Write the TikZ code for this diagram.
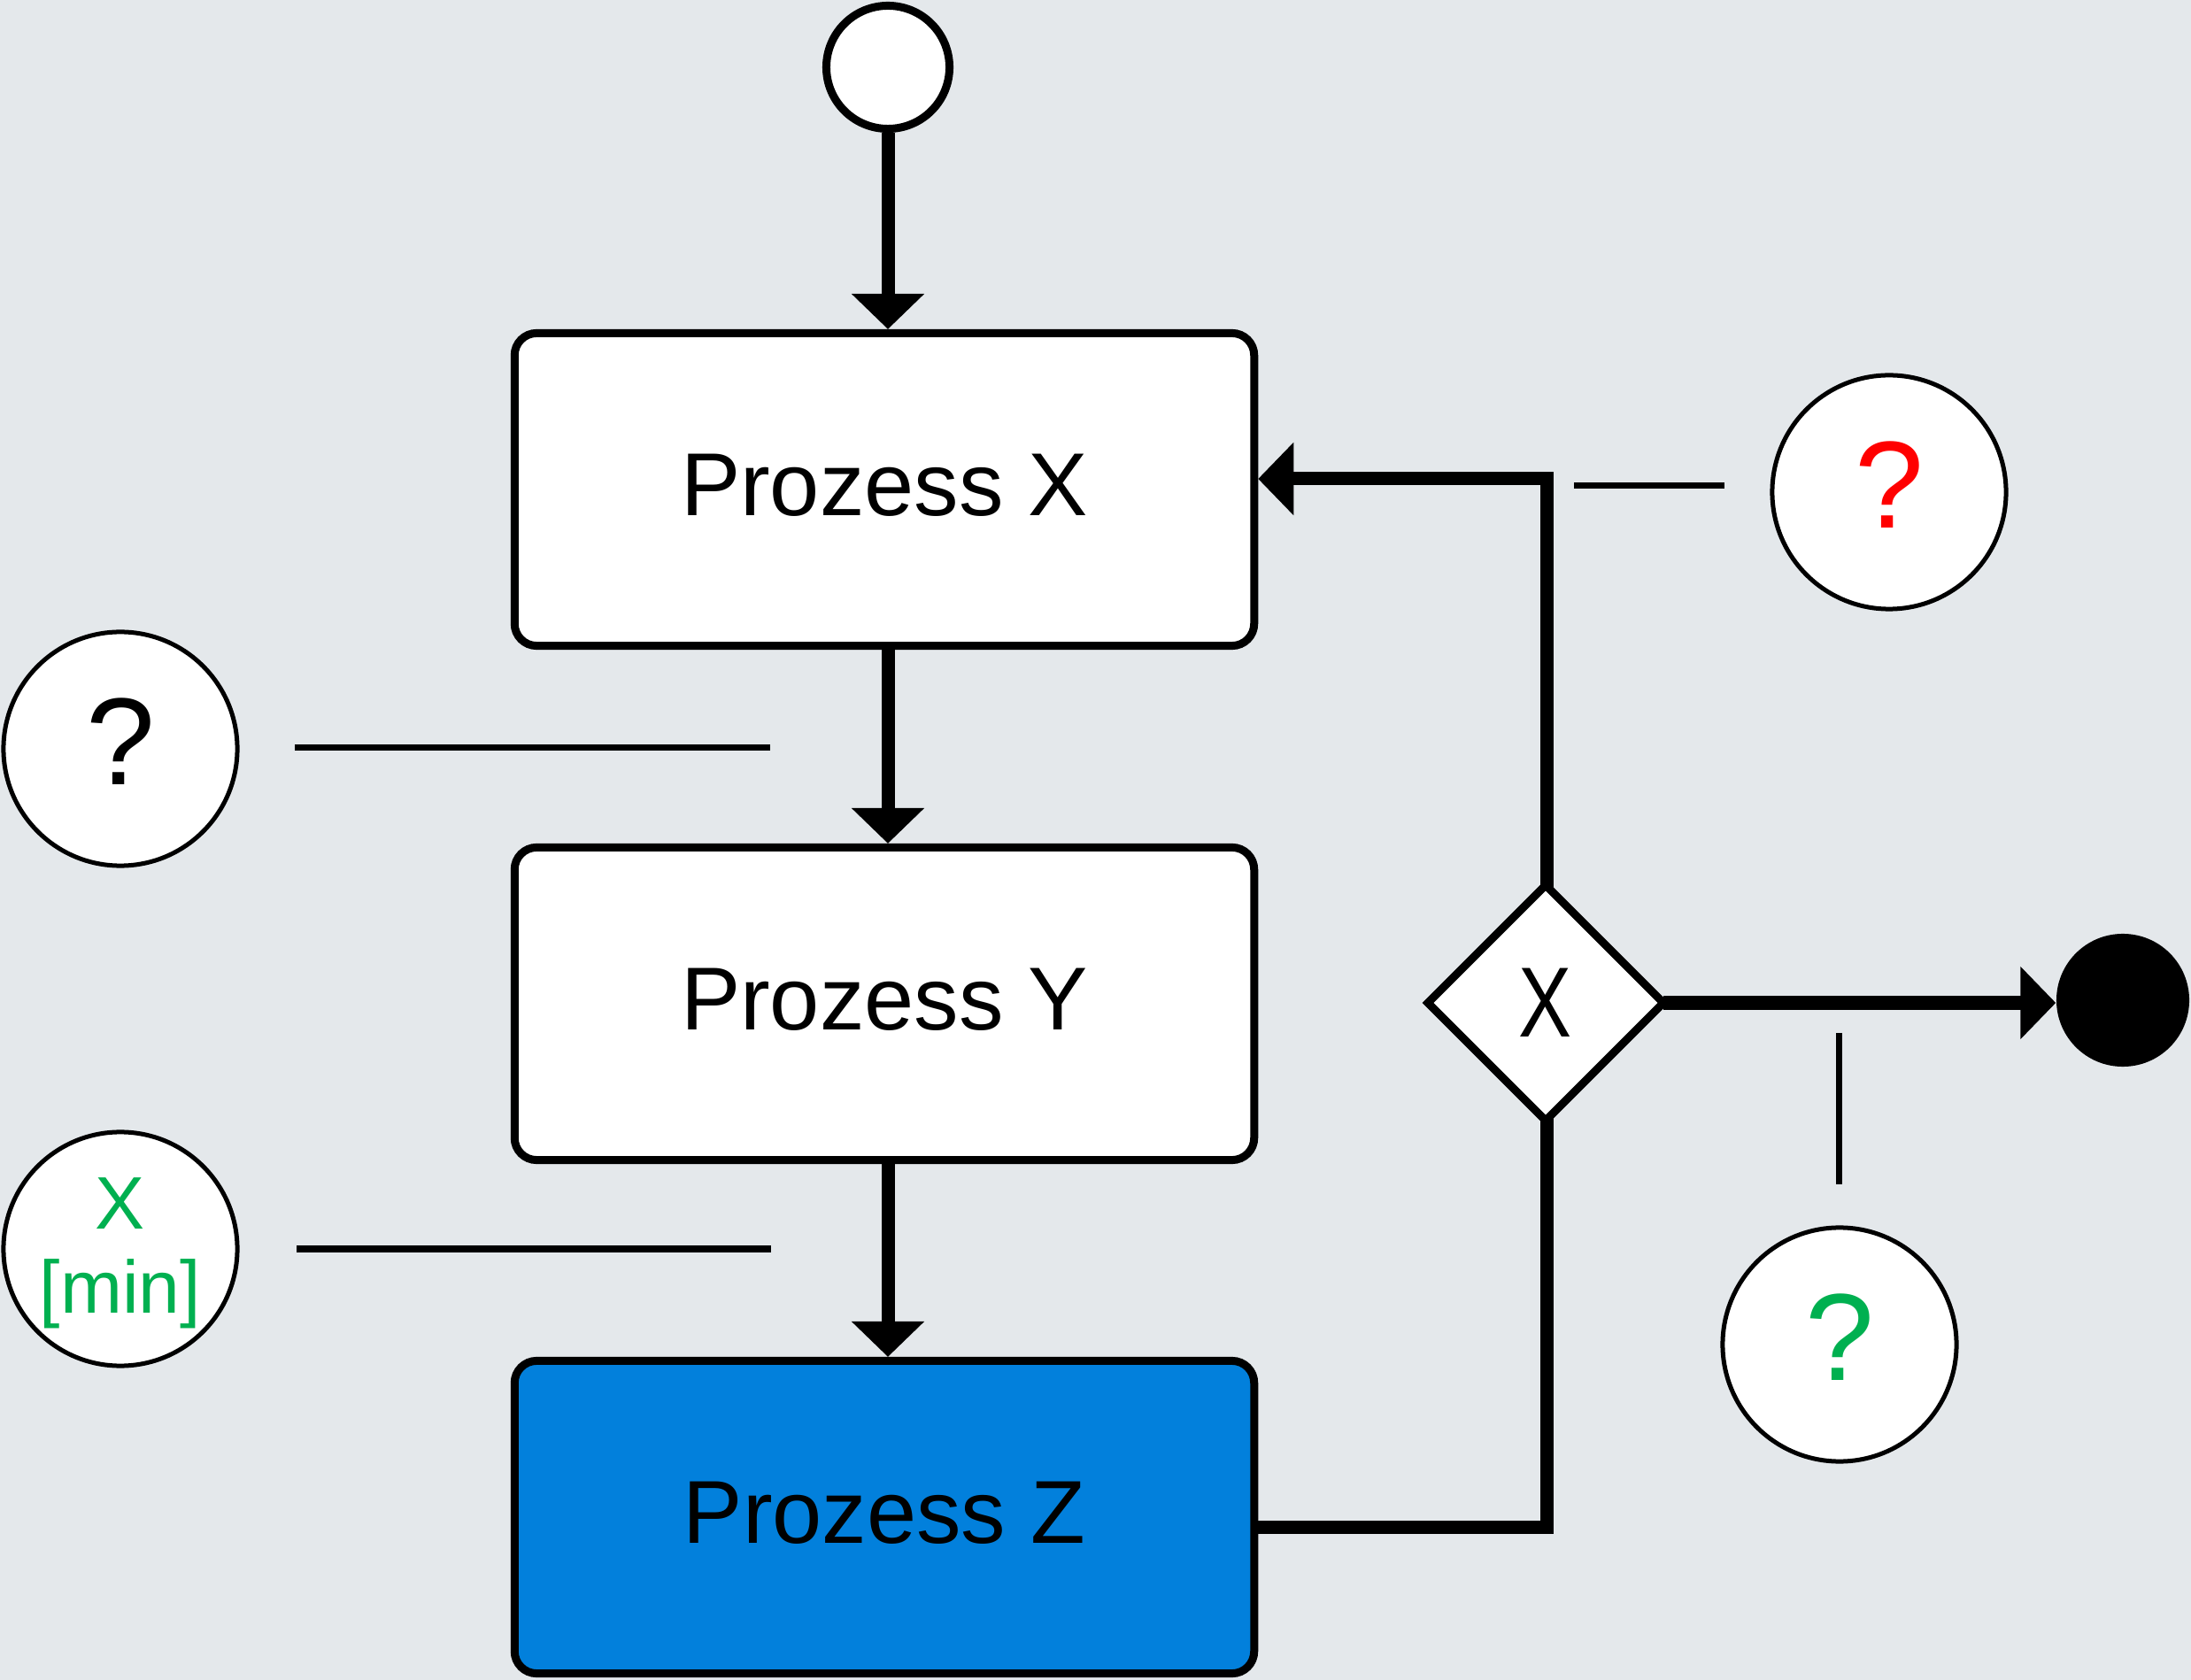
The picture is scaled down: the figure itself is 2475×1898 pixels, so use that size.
\documentclass[tikz,border=0pt]{standalone}
\usepackage{fontspec}
\setmainfont{Liberation Sans}
\usetikzlibrary{arrows.meta,shapes.geometric,calc}
\definecolor{bg}{HTML}{E4E8EB}
\definecolor{zblue}{HTML}{0280DC}
\definecolor{qgreen}{HTML}{00B050}
\definecolor{qred}{HTML}{FF0000}
\begin{document}
\begin{tikzpicture}[x=0.01cm,y=-0.01cm,
  proc/.style={draw=black, line width=0.09cm, rounded corners=0.25cm,
    minimum width=8.35cm, minimum height=3.53cm, inner sep=0pt, fill=white,
    font=\fontsize{28.7}{34}\selectfont, text depth=0.1cm},
  startc/.style={circle, draw=black, line width=0.09cm, fill=white,
    minimum size=1.39cm, inner sep=0pt},
  endc/.style={circle, fill=black, minimum size=1.5cm, inner sep=0pt},
  qcirc/.style={circle, draw=black, line width=0.05cm, fill=white,
    minimum size=2.64cm, inner sep=0pt},
  qmark/.style={font=\fontsize{39.8}{46}\selectfont, text depth=0.16cm},
  gate/.style={diamond, aspect=1, draw=black, line width=0.09cm, fill=white,
    minimum width=2.66cm, minimum height=2.66cm, inner sep=0pt, outer sep=0pt,
    font=\fontsize{32}{38}\selectfont},
  conn/.style={line width=0.15cm, -{Triangle[width=0.8cm,length=0.4cm]}},
  annline/.style={line width=0.07cm}
]
\fill[bg] (0,0) rectangle (2475,1898);
\useasboundingbox (0,0) rectangle (2475,1898);

% main process nodes
\node[startc] (start) at (1003,76) {};
\node[proc] (X) at (999,553) {Prozess X};
\node[proc] (Y) at (999,1134) {Prozess Y};
\node[proc, fill=zblue] (Z) at (999,1714) {Prozess Z};
\node[endc] (E) at (2398,1130) {};

% annotation circles
\node[qcirc, qmark] (q1) at (136,846) {?};
\node[qcirc] (q2) at (136,1411) {};
\node[align=center, text=qgreen, font=\fontsize{23.9}{27}\selectfont, inner sep=0pt] (q2t) at (136,1416) {X\\{[}min{]}};
\node[qcirc, qmark, text=qred] (q3) at (2134,556) {?};
\node[qcirc, qmark, text=qgreen] (q4) at (2078,1519) {?};

% annotation line ends
\coordinate (a1s) at (333,845);
\coordinate (a1e) at (870,845);
\coordinate (a2s) at (335,1411);
\coordinate (a2e) at (871,1411);
\coordinate (a3s) at (1778,549);
\coordinate (a3e) at (1948,549);
\coordinate (a4s) at (2077,1167);
\coordinate (a4e) at (2077,1338);
\draw[annline] (a1s) -- (a1e);
\draw[annline] (a2s) -- (a2e);
\draw[annline] (a3s) -- (a3e);
\draw[annline] (a4s) -- (a4e);

% main flow
\draw[conn] (start) -- (start |- X.north);
\draw[conn] (X.south -| start) -- (Y.north -| start);
\draw[conn] (Y.south -| start) -- (Z.north -| start);

% feedback loop
\coordinate (lb) at (1747,1725);
\coordinate (lt) at (1747,541);
\draw[conn] (Z.east |- lb) -- (lb) -- (lt) -- (X.east |- lt);

% gateway on top of loop
\node[gate] (D) at (1746,1133) {\scalebox{0.8}[1]{X}};
\draw[conn] (D.east) -- (D.east -| E.west);
\end{tikzpicture}
\end{document}
